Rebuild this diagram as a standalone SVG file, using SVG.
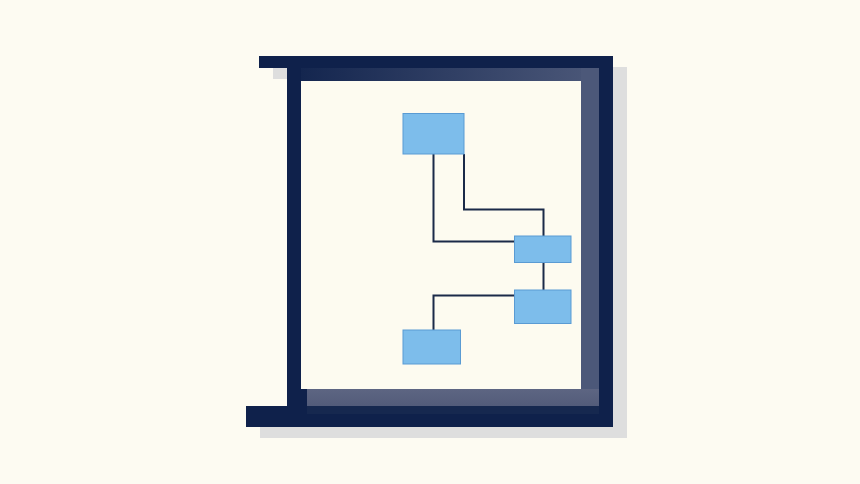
<svg xmlns="http://www.w3.org/2000/svg" width="860" height="484" viewBox="0 0 860 484">
<defs>
<linearGradient id="topBand" x1="0" y1="0" x2="1" y2="0">
<stop offset="0" stop-color="#14264f"/>
<stop offset="1" stop-color="#4c5879"/>
</linearGradient>
<linearGradient id="botBand" x1="0" y1="0" x2="0" y2="1">
<stop offset="0" stop-color="#5d6582"/>
<stop offset="1" stop-color="#535c7a"/>
</linearGradient>
</defs>
<style>
.frame{fill:#0f214b}
.shadow{fill:#dedede}
.node rect{fill:#7dbdeb;stroke:#5a9bd3;stroke-width:1}
.conn{fill:none;stroke:#1b2a48;stroke-width:2}
</style>
<rect x="0" y="0" width="860" height="484" fill="#fdfbf2"/>
<g id="frame">
<g transform="translate(14,11)" class="shadow">
<rect x="259" y="56" width="354" height="12"/>
<rect x="599" y="56" width="14" height="371"/>
<rect x="246" y="406" width="367" height="21"/>
</g>
<rect x="287" y="68" width="312" height="338" fill="#0f214b"/>
<rect x="301" y="68" width="298" height="13" fill="url(#topBand)"/>
<rect x="581" y="68" width="18" height="338" fill="#4c5879"/>
<rect x="307" y="389" width="292" height="17" fill="url(#botBand)"/>
<rect x="301" y="81" width="280" height="308" fill="#fdfbf0"/>
<rect class="frame" x="259" y="56" width="354" height="12"/>
<rect class="frame" x="599" y="56" width="14" height="371"/>
<rect class="frame" x="246" y="406" width="367" height="21"/>
<rect x="307" y="406" width="292" height="8" fill="#16284f"/>
</g>
<g id="connectors">
<polyline class="conn" points="433.5,154 433.5,241.5 514,241.5"/>
<polyline class="conn" points="464,154 464,209.5 543.5,209.5 543.5,236"/>
<line class="conn" x1="543.5" y1="263" x2="543.5" y2="290"/>
<polyline class="conn" points="514,295.5 433.5,295.5 433.5,330"/>
</g>
<g id="node1" class="node"><rect x="403" y="113.5" width="61" height="40.5"/></g>
<g id="node2" class="node"><rect x="514.5" y="236" width="56.5" height="26.5"/></g>
<g id="node3" class="node"><rect x="514.5" y="290" width="56.5" height="33.5"/></g>
<g id="node4" class="node"><rect x="403" y="330" width="57.5" height="34"/></g>
</svg>
